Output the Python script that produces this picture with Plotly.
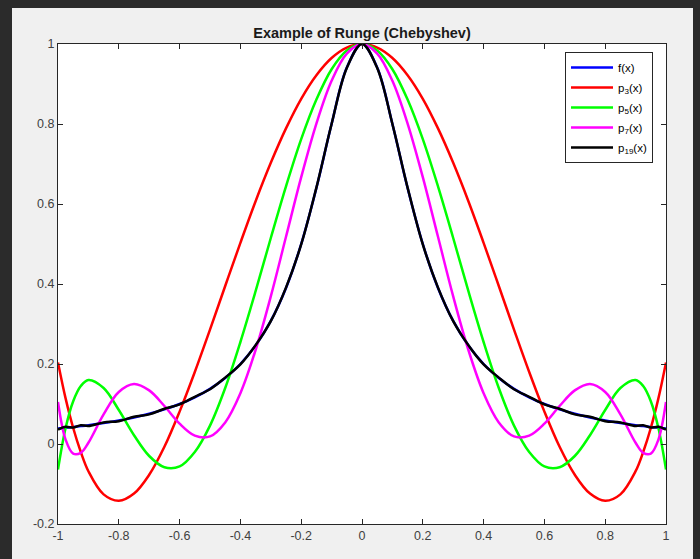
import plotly.graph_objects as go

# x sample positions
X = [-1.0, -0.975, -0.95, -0.925, -0.9, -0.85, -0.8, -0.75, -0.7, -0.65, -0.6, -0.55, -0.5,
     -0.45, -0.4, -0.35, -0.3, -0.25, -0.2, -0.15, -0.1, -0.05, 0.0, 0.05, 0.1, 0.15, 0.2,
     0.25, 0.3, 0.35, 0.4, 0.45, 0.5, 0.55, 0.6, 0.65, 0.7, 0.75, 0.8, 0.85, 0.9, 0.925,
     0.95, 0.975, 1.0]

F = [0.0385, 0.0404, 0.0424, 0.0447, 0.0471, 0.0525, 0.0588, 0.0664, 0.0755, 0.0865, 0.1,
     0.1168, 0.1379, 0.165, 0.2, 0.2462, 0.3077, 0.39, 0.5, 0.64, 0.8, 0.941, 1.0,
     0.941, 0.8, 0.64, 0.5, 0.39, 0.3077, 0.2462, 0.2, 0.165, 0.1379, 0.1168, 0.1,
     0.0865, 0.0755, 0.0664, 0.0588, 0.0525, 0.0471, 0.0447, 0.0424, 0.0404, 0.0385]

P3 = [0.204, 0.114, 0.040, -0.020, -0.068, -0.126, -0.142, -0.124, -0.077, -0.007, 0.081,
      0.180, 0.286, 0.395, 0.503, 0.607, 0.703, 0.789, 0.863, 0.922, 0.965, 0.991, 1.0,
      0.991, 0.965, 0.922, 0.863, 0.789, 0.703, 0.607, 0.503, 0.395, 0.286, 0.180, 0.081,
      -0.007, -0.077, -0.124, -0.142, -0.126, -0.068, -0.020, 0.040, 0.114, 0.204]

P5 = [-0.064, 0.040, 0.107, 0.145, 0.160, 0.140, 0.085, 0.022, -0.030, -0.058, -0.056,
      -0.020, 0.046, 0.140, 0.255, 0.382, 0.515, 0.644, 0.762, 0.861, 0.937, 0.984, 1.0,
      0.984, 0.937, 0.861, 0.762, 0.644, 0.515, 0.382, 0.255, 0.140, 0.046, -0.020, -0.056,
      -0.058, -0.030, 0.022, 0.085, 0.140, 0.160, 0.145, 0.107, 0.040, -0.064]

P7 = [0.105, 0.011, -0.024, -0.022, 0.003, 0.074, 0.130, 0.150, 0.134, 0.095, 0.051,
      0.021, 0.019, 0.054, 0.127, 0.235, 0.369, 0.518, 0.667, 0.801, 0.908, 0.976, 1.0,
      0.976, 0.908, 0.801, 0.667, 0.518, 0.369, 0.235, 0.127, 0.054, 0.019, 0.021, 0.051,
      0.095, 0.134, 0.150, 0.130, 0.074, 0.003, -0.022, -0.024, 0.011, 0.105]

P19 = [0.036, 0.043, 0.041, 0.047, 0.045, 0.054, 0.057, 0.068, 0.074, 0.088, 0.099,
       0.118, 0.137, 0.166, 0.199, 0.247, 0.307, 0.391, 0.499, 0.641, 0.80, 0.94, 1.0,
       0.94, 0.80, 0.641, 0.499, 0.391, 0.307, 0.247, 0.199, 0.166, 0.137, 0.118, 0.099,
       0.088, 0.074, 0.068, 0.057, 0.054, 0.045, 0.047, 0.041, 0.043, 0.036]

SERIES_NAMES = ["f(x)", "p<sub>3</sub>(x)", "p<sub>5</sub>(x)", "p<sub>7</sub>(x)", "p<sub>19</sub>(x)"]
SERIES_COLORS = ["#0000ff", "#ff0000", "#00ff00", "#ff00ff", "#000000"]

X_TICKS = [-1, -0.8, -0.6, -0.4, -0.2, 0, 0.2, 0.4, 0.6, 0.8, 1]
X_TICK_TEXT = ["-1", "-0.8", "-0.6", "-0.4", "-0.2", "0", "0.2", "0.4", "0.6", "0.8", "1"]
Y_TICKS = [-0.2, 0, 0.2, 0.4, 0.6, 0.8, 1]
Y_TICK_TEXT = ["-0.2", "0", "0.2", "0.4", "0.6", "0.8", "1"]

TITLE = "Example of Runge (Chebyshev)"

FONT = "Liberation Sans, Arial, Helvetica, sans-serif"

fig = go.Figure()
for i, (ys, name, col) in enumerate(zip([F, P3, P5, P7, P19], SERIES_NAMES, SERIES_COLORS)):
    fig.add_trace(go.Scatter(x=X, y=ys, mode="lines", name=name, legendgroup="g%d" % i,
                             line=dict(color=col, width=2.5, shape="spline", smoothing=1)))

W, H = 700, 559
L, R, T, B = 58, 34, 44, 35
pw, ph = W - L - R, H - T - B

def px_x(p):
    return (p - L) / pw

def px_y(p):
    return (H - B - p) / ph

axis_common = dict(showgrid=False, zeroline=False, showline=True, linecolor="#262626",
                   linewidth=1, mirror="ticks", ticks="inside", ticklen=5, tickwidth=1,
                   tickcolor="#262626",
                   tickfont=dict(family=FONT, size=12.5, color="#404040"))

fig.update_layout(
    width=W, height=H,
    margin=dict(l=L, r=R, t=T, b=B),
    paper_bgcolor="#2b2b2b",
    plot_bgcolor="white",
    showlegend=True,
    title=dict(text="<b>" + TITLE + "</b>", x=0.5, xref="paper", xanchor="center",
               y=1 - 33 / H, yref="container", yanchor="middle",
               font=dict(family=FONT, size=14.5, color="#1a1a1a")),
    xaxis=dict(range=[-1, 1], tickvals=X_TICKS, ticktext=X_TICK_TEXT, **axis_common),
    yaxis=dict(range=[-0.2, 1], tickvals=Y_TICKS, ticktext=Y_TICK_TEXT, **axis_common),
    legend=dict(x=px_x(565), y=px_y(52), xanchor="left", yanchor="top",
                bgcolor="white", bordercolor="#262626", borderwidth=1,
                itemwidth=42,
                font=dict(family=FONT, size=11.5, color="#000000"),
                tracegroupgap=1),
    shapes=[
        dict(type="rect", xref="paper", yref="paper", x0=px_x(12), x1=px_x(693),
             y0=px_y(H + 5), y1=px_y(8), fillcolor="#f0f0f0", line=dict(width=0), layer="below"),
        dict(type="rect", xref="paper", yref="paper", x0=0, x1=1, y0=0, y1=1,
             fillcolor="white", line=dict(width=0), layer="below"),
    ],
)

fig.write_html("out.html", config={"displayModeBar": False},
               post_script="document.body.style.margin='0';")
